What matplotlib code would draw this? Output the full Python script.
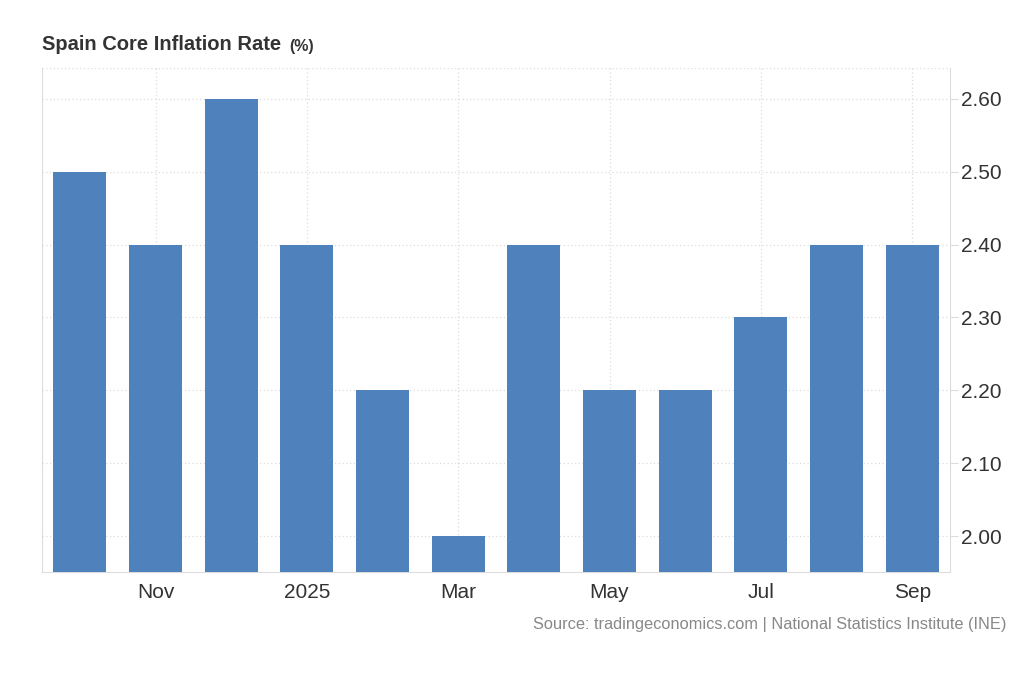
import matplotlib.pyplot as plt
import numpy as np

# data, Oct 2024 .. Sep 2025
months = ['Oct', 'Nov', 'Dec', '2025', 'Feb', 'Mar', 'Apr', 'May', 'Jun', 'Jul', 'Aug', 'Sep']
values = [2.5, 2.4, 2.6, 2.4, 2.2, 2.0, 2.4, 2.2, 2.2, 2.3, 2.4, 2.4]
tick_idx = [1, 3, 5, 7, 9, 11]
y_ticks = [2.0, 2.1, 2.2, 2.3, 2.4, 2.5, 2.6]

plt.rcParams['font.family'] = ['Liberation Sans', 'DejaVu Sans']

fig = plt.figure(figsize=(10.24, 7), dpi=100)
ax = fig.add_axes([42/1024, 128/700, 908/1024, 504/700])

x = np.arange(len(values))
ax.bar(x, values, width=0.7, color='#4f81bd', zorder=3)

ax.set_xlim(-0.5, len(values) - 0.5)
ax.set_ylim(1.951, 2.642)
ax.set_xticks(tick_idx)
ax.set_xticklabels([months[i] for i in tick_idx])
ax.set_yticks(y_ticks)
ax.set_yticklabels(['%.2f' % v for v in y_ticks])
ax.yaxis.tick_right()

ax.grid(True, color='#dcdcdc', linestyle=(0, (1, 2)), linewidth=0.9, zorder=0)
ax.axhline(2.642, color='#dcdcdc', linestyle=(0, (1, 2)), linewidth=0.9, zorder=0)

for side in ['left', 'right', 'bottom']:
    ax.spines[side].set_color('#dcdcdc')
ax.spines['top'].set_visible(False)

ax.tick_params(axis='x', length=0, labelsize=15, colors='#333333', pad=8)
ax.tick_params(axis='y', length=6, color='#dcdcdc', labelsize=15, labelcolor='#333333', pad=2)

fig.text(42/1024, 1 - 45/700, 'Spain Core Inflation Rate', fontsize=14.5, fontweight='bold',
         color='#333333', va='center', ha='left')
fig.text(289/1024, 1 - 46/700, '(%)', fontsize=11.5, fontweight='bold',
         color='#333333', va='center', ha='left')
fig.text(1006/1024, 1 - 625/700, 'Source: tradingeconomics.com | National Statistics Institute (INE)',
         fontsize=11.8, color='#888888', ha='right', va='center')

plt.savefig('out.png', dpi=100)
